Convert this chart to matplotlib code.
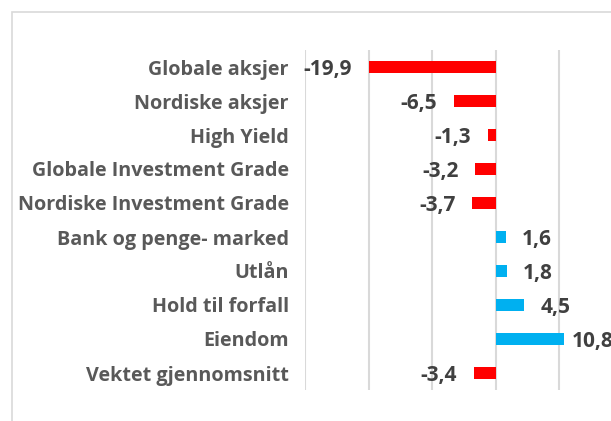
import matplotlib
matplotlib.use("Agg")
import matplotlib.pyplot as plt
from matplotlib.patches import Rectangle

categories = ["Globale aksjer", "Nordiske aksjer", "High Yield", "Globale Investment Grade",
              "Nordiske Investment Grade", "Bank og penge- marked", "Utlån", "Hold til forfall",
              "Eiendom", "Vektet gjennomsnitt"]
values = [-19.9, -6.5, -1.3, -3.2, -3.7, 1.6, 1.8, 4.5, 10.8, -3.4]
x_ticks = [-30, -20, -10, 0, 10, 20]

RED = "#FF0000"
BLUE = "#00B0F0"
GRID = "#D9D9D9"

W, H = 611, 421
fig = plt.figure(figsize=(W / 100, H / 100), dpi=100)
fig.patch.set_facecolor("white")

# chart border (cropped on the right/bottom)
fig.patches.append(Rectangle((12 / W, -0.1), 1.2, (H - 12) / H + 0.1, transform=fig.transFigure,
                             fill=False, edgecolor=GRID, linewidth=1.2))

ax_left, ax_right = 305, 305 + 50 * 6.36
ax_top, ax_bottom = 50, 390
ax = fig.add_axes([ax_left / W, (H - ax_bottom) / H, (ax_right - ax_left) / W, (ax_bottom - ax_top) / H])
ax.set_facecolor("none")
ax.set_xlim(-30, 20)
n = len(categories)
ax.set_ylim(n - 0.5, -0.5)

for x in x_ticks:
    ax.axvline(x, color=GRID, linewidth=1.5, zorder=0)

ypos = list(range(n))
colors = [RED if v < 0 else BLUE for v in values]
ax.barh(ypos, values, height=0.35, color=colors, zorder=2)

font = "Open Sans"
for y, v in zip(ypos, values):
    lab = f"{v:.1f}".replace(".", ",")
    if v < 0:
        ax.annotate(lab, (v, y), xytext=(-17 * 0.72, -2), textcoords="offset points",
                    ha="right", va="center", fontsize=15, fontweight="bold",
                    color="#404040", family=font)
    else:
        gap = 7 if v > 10 else 16
        ax.annotate(lab, (v, y), xytext=(gap * 0.72, -2), textcoords="offset points",
                    ha="left", va="center", fontsize=15, fontweight="bold",
                    color="#404040", family=font, annotation_clip=False)

ax.set_yticks(ypos)
ax.set_yticklabels(categories, fontsize=14.2, fontweight="bold", color="#595959", family=font)
ax.tick_params(axis="y", length=0, pad=16 * 0.72)
ax.set_xticks([])
for s in ax.spines.values():
    s.set_visible(False)

fig.savefig("out.png", dpi=100)
